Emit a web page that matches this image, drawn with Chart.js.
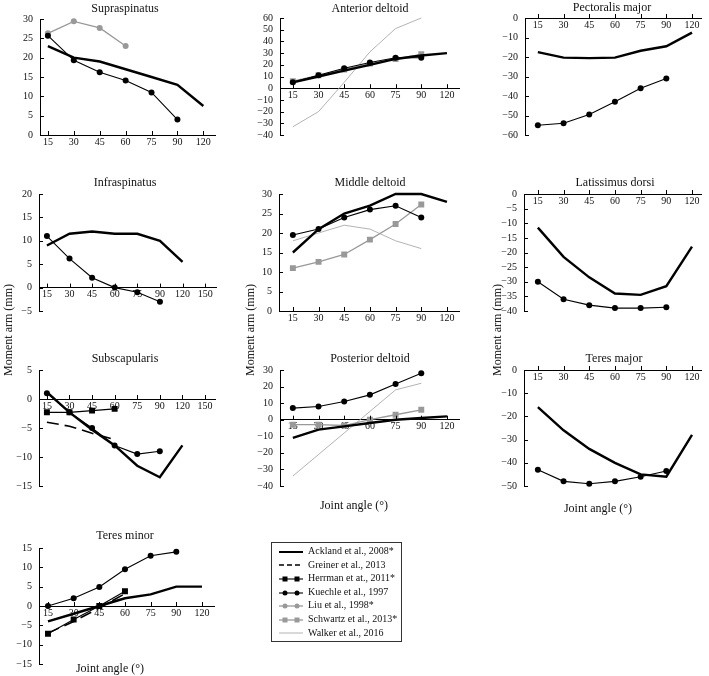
<!DOCTYPE html>
<html>
<head>
<meta charset="utf-8">
<script src="https://cdn.jsdelivr.net/npm/chart.js@4.4.1/dist/chart.umd.min.js"></script>
<style>
body { margin: 0; background: #fff; }
#wrap { position: relative; width: 709px; height: 676px; overflow: hidden; font-family: "Liberation Serif", serif; color: #111; }
#wrap canvas { position: absolute; }
.ttl { position: absolute; width: 200px; text-align: center; font-size: 12px; line-height: 16px; white-space: nowrap; }
.rot { position: absolute; width: 130px; height: 16px; line-height: 16px; text-align: center; font-size: 12px; transform: rotate(-90deg); white-space: nowrap; }
#legend { position: absolute; left: 271px; top: 542px; width: 129px; height: 98px; border: 1px solid #333; font-size: 10px; }
#legend .row { position: absolute; left: 6px; height: 12px; line-height: 12px; white-space: nowrap; }
#legend svg { vertical-align: middle; margin-right: 4px; }
</style>
</head>
<body>
<div id="wrap"></div>
<script>
// joint angle categories
const angles7 = ['15', '30', '45', '60', '75', '90', '120'];
const angles8 = ['15', '30', '45', '60', '75', '90', '120', '150'];

// y tick labels
const supraTicks = [0, 5, 10, 15, 20, 25, 30];
const antTicks = [-40, -30, -20, -10, 0, 10, 20, 30, 40, 50, 60];
const pecTicks = [-60, -50, -40, -30, -20, -10, 0];
const infraTicks = [-5, 0, 5, 10, 15, 20];
const midTicks = [0, 5, 10, 15, 20, 25, 30];
const latTicks = [-40, -35, -30, -25, -20, -15, -10, -5, 0];
const subTicks = [-15, -10, -5, 0, 5];
const postTicks = [-40, -30, -20, -10, 0, 10, 20, 30];
const tmajTicks = [-50, -40, -30, -20, -10, 0];
const tminTicks = [-15, -10, -5, 0, 5, 10, 15];

// Supraspinatus
const supraAckland = [23, 20, 19, 17, 15, 13, 7.5];
const supraKuechle = [25.7, 19.3, 16.2, 14.1, 11, 4];
const supraLiu = [26.3, 29.4, 27.7, 23];
// Anterior deltoid
const antAckland = [5, 10, 15, 20, 25, 28, 30];
const antKuechle = [5, 11, 17, 22, 26, 26];
const antSchwartz = [6, 11, 16, 21, 25, 29];
const antWalker = [-33, -20, 5, 31, 51, 60];
// Pectoralis major
const pecAckland = [-17.5, -20.3, -20.6, -20.3, -16.8, -14.5, -7.5];
const pecKuechle = [-55, -54, -49.5, -43, -36, -31];
// Infraspinatus
const infraAckland = [9, 11.5, 12, 11.5, 11.5, 10, 5.5];
const infraKuechle = [11, 6.2, 2.1, 0, -1, -3];
// Middle deltoid
const midAckland = [15, 21, 25, 27, 30, 30, 28];
const midKuechle = [19.5, 21, 24, 26, 27, 24];
const midSchwartz = [11, 12.6, 14.5, 18.3, 22.3, 27.3];
const midWalker = [18, 20, 22, 21, 18, 16];
// Latissimus dorsi
const latAckland = [-11.5, -21.5, -28.5, -34, -34.5, -31.5, -18];
const latKuechle = [-30, -36, -38, -39, -39, -38.7];
// Subscapularis
const subAckland = [1.2, -2.3, -5.3, -8, -11.5, -13.5, -8];
const subKuechle = [1, -2.3, -5, -8, -9.5, -9];
const subHerrman = [-2.3, -2.3, -2, -1.7];
const subGreiner = [-4, -4.7, -5.9, -7];
// Posterior deltoid
const postAckland = [-11, -6, -4, -2, 0, 1, 2];
const postKuechle = [7, 8, 11, 15, 21.5, 28];
const postSchwartz = [-3, -3, -3.5, 0, 3, 6];
const postWalker = [-34, -21, -8, 5, 18, 22];
// Teres major
const tmajAckland = [-16, -26, -34, -40, -45, -46, -28];
const tmajKuechle = [-43, -48, -49, -48, -46, -43.5];
// Teres minor
const tminAckland = [-4, -2, 0, 2, 3, 5, 5];
const tminKuechle = [0, 2, 4.9, 9.5, 13, 14];
const tminHerrman = [-7.2, -3.5, 0, 3.8];
const tminGreiner = [-7, -4, -0.5, 3.2];

const legendNames = ['Ackland et al., 2008*', 'Greiner et al., 2013', 'Herrman et at., 2011*',
  'Kuechle et al., 1997', 'Liu et al., 1998*', 'Schwartz et al., 2013*', 'Walker et al., 2016'];

const STYLE = {
  ackland: { borderColor: '#000', borderWidth: 2.4, pointRadius: 0 },
  greiner: { borderColor: '#000', borderWidth: 1.6, borderDash: [12, 6], pointRadius: 0 },
  herrman: { borderColor: '#000', borderWidth: 1.1, pointStyle: 'rect', pointRadius: 4.2, pointBorderWidth: 0, pointBackgroundColor: '#000' },
  kuechle: { borderColor: '#000', borderWidth: 1.1, pointStyle: 'circle', pointRadius: 3, pointBorderWidth: 0, pointBackgroundColor: '#000' },
  liu: { borderColor: '#999', borderWidth: 1.3, pointStyle: 'circle', pointRadius: 3, pointBorderWidth: 0, pointBackgroundColor: '#999' },
  schwartz: { borderColor: '#999', borderWidth: 1.3, pointStyle: 'rect', pointRadius: 4.2, pointBorderWidth: 0, pointBackgroundColor: '#999' },
  walker: { borderColor: '#aaa', borderWidth: 0.9, pointRadius: 0 }
};

function ds(kind, arr) {
  return Object.assign({
    data: arr.map((v, i) => ({ x: i, y: v })),
    tension: 0, fill: false, clip: 6
  }, STYLE[kind]);
}

const wrap = document.getElementById('wrap');
const tickFont = { family: 'Liberation Serif', size: 10 };
const minus = v => String(v).replace('-', '\u2212');

// short inward tick marks on both axes
const inTicks = {
  id: 'inTicks',
  afterDraw(chart) {
    const { ctx, scales: { x, y } } = chart;
    const y0 = y.getPixelForValue(0);
    const left = chart.chartArea.left;
    ctx.save();
    ctx.strokeStyle = '#000';
    ctx.lineWidth = 1;
    ctx.beginPath();
    y.ticks.forEach(t => {
      const py = Math.round(y.getPixelForValue(t.value)) + 0.5;
      ctx.moveTo(left, py); ctx.lineTo(left + 4, py);
    });
    x.ticks.forEach(t => {
      const px = Math.round(x.getPixelForValue(t.value)) + 0.5;
      ctx.moveTo(px, y0); ctx.lineTo(px, y0 - 4);
    });
    ctx.stroke();
    ctx.restore();
  }
};

function panel(p) {
  const padL = 36, padT = 8, padR = 2, padB = 20;
  const c = document.createElement('canvas');
  const w = p.r - p.l + padL + padR;
  const h = p.b - p.t + padT + padB;
  c.width = w; c.height = h;
  c.style.left = (p.l - padL) + 'px';
  c.style.top = (p.t - padT) + 'px';
  c.style.width = w + 'px'; c.style.height = h + 'px';
  wrap.appendChild(c);

  const labels = p.labels;
  new Chart(c.getContext('2d'), {
    type: 'line',
    data: { datasets: p.sets },
    options: {
      responsive: false,
      animation: false,
      layout: { padding: { left: 0, top: padT, right: padR, bottom: padB } },
      plugins: { legend: { display: false }, tooltip: { enabled: false } },
      scales: {
        x: {
          type: 'linear', min: p.xmin, max: p.xmax, position: { y: 0 },
          grid: { display: false, drawTicks: false },
          border: { color: '#000', width: 1 },
          ticks: {
            font: tickFont, color: '#111', padding: 1, autoSkip: false, maxRotation: 0,
            callback: v => labels[v]
          },
          afterBuildTicks: s => { s.ticks = labels.map((_, i) => ({ value: i })); },
          afterFit: s => { s.height = 0; }
        },
        y: {
          type: 'linear', min: p.ticks[0], max: p.ticks[p.ticks.length - 1], position: 'left',
          grid: { display: false, drawTicks: false },
          border: { color: '#000', width: 1 },
          ticks: { font: tickFont, color: '#111', padding: 7, autoSkip: false, callback: minus },
          afterBuildTicks: s => { s.ticks = p.ticks.map(v => ({ value: v })); },
          afterFit: s => { s.width = padL; }
        }
      }
    },
    plugins: [inTicks]
  });

  const t = document.createElement('div');
  t.className = 'ttl';
  t.textContent = p.title;
  t.style.left = (p.tx - 100) + 'px';
  t.style.top = (p.ty - 8) + 'px';
  wrap.appendChild(t);
}

panel({ title: 'Supraspinatus', tx: 125, ty: 8, l: 40, r: 217, t: 14, b: 135, xmin: -0.305, xmax: 6.45,
  labels: angles7, ticks: supraTicks,
  sets: [ds('ackland', supraAckland), ds('kuechle', supraKuechle), ds('liu', supraLiu)] });
panel({ title: 'Anterior deltoid', tx: 370, ty: 8, l: 280, r: 462, t: 13, b: 135, xmin: -0.5, xmax: 6.5,
  labels: angles7, ticks: antTicks,
  sets: [ds('ackland', antAckland), ds('kuechle', antKuechle), ds('schwartz', antSchwartz), ds('walker', antWalker)] });
panel({ title: 'Pectoralis major', tx: 612, ty: 7, l: 525, r: 703, t: 13, b: 135, xmin: -0.5, xmax: 6.35,
  labels: angles7, ticks: pecTicks,
  sets: [ds('ackland', pecAckland), ds('kuechle', pecKuechle)] });

panel({ title: 'Infraspinatus', tx: 125, ty: 182, l: 39, r: 218, t: 189, b: 311, xmin: -0.35, xmax: 7.48,
  labels: angles8, ticks: infraTicks,
  sets: [ds('ackland', infraAckland), ds('kuechle', infraKuechle)] });
panel({ title: 'Middle deltoid', tx: 370, ty: 182, l: 279, r: 462, t: 189, b: 311, xmin: -0.54, xmax: 6.5,
  labels: angles7, ticks: midTicks,
  sets: [ds('ackland', midAckland), ds('kuechle', midKuechle), ds('schwartz', midSchwartz), ds('walker', midWalker)] });
panel({ title: 'Latissimus dorsi', tx: 615, ty: 182, l: 524, r: 703, t: 189, b: 311, xmin: -0.54, xmax: 6.35,
  labels: angles7, ticks: latTicks,
  sets: [ds('ackland', latAckland), ds('kuechle', latKuechle)] });

panel({ title: 'Subscapularis', tx: 125, ty: 358, l: 39, r: 218, t: 365, b: 486, xmin: -0.35, xmax: 7.48,
  labels: angles8, ticks: subTicks,
  sets: [ds('ackland', subAckland), ds('greiner', subGreiner), ds('herrman', subHerrman), ds('kuechle', subKuechle)] });
panel({ title: 'Posterior deltoid', tx: 370, ty: 358, l: 280, r: 462, t: 365, b: 486, xmin: -0.5, xmax: 6.5,
  labels: angles7, ticks: postTicks,
  sets: [ds('ackland', postAckland), ds('kuechle', postKuechle), ds('schwartz', postSchwartz), ds('walker', postWalker)] });
panel({ title: 'Teres major', tx: 614, ty: 358, l: 524, r: 703, t: 365, b: 486, xmin: -0.54, xmax: 6.35,
  labels: angles7, ticks: tmajTicks,
  sets: [ds('ackland', tmajAckland), ds('kuechle', tmajKuechle)] });

panel({ title: 'Teres minor', tx: 125, ty: 535, l: 39, r: 217, t: 543, b: 664, xmin: -0.35, xmax: 6.5,
  labels: angles7, ticks: tminTicks,
  sets: [ds('ackland', tminAckland), ds('greiner', tminGreiner), ds('herrman', tminHerrman), ds('kuechle', tminKuechle)] });

// axis titles
[[8, 330], [250, 330], [497, 330]].forEach(([cx, cy]) => {
  const d = document.createElement('div');
  d.className = 'rot';
  d.textContent = 'Moment arm (mm)';
  d.style.left = (cx - 65) + 'px';
  d.style.top = (cy - 8) + 'px';
  wrap.appendChild(d);
});
[[110, 668], [354, 505], [598, 508]].forEach(([cx, cy]) => {
  const d = document.createElement('div');
  d.className = 'ttl';
  d.textContent = 'Joint angle (\u00b0)';
  d.style.left = (cx - 100) + 'px';
  d.style.top = (cy - 8) + 'px';
  wrap.appendChild(d);
});

// legend
const legendKinds = ['ackland', 'greiner', 'herrman', 'kuechle', 'liu', 'schwartz', 'walker'];
const lg = document.createElement('div');
lg.id = 'legend';
legendKinds.forEach((k, i) => {
  const s = STYLE[k];
  const dash = s.borderDash ? ' stroke-dasharray="5 3"' : '';
  let marks = '';
  if (s.pointRadius) {
    [7, 19].forEach(mx => {
      marks += s.pointStyle === 'rect'
        ? `<rect x="${mx - 2.5}" y="2.5" width="5" height="5" fill="${s.pointBackgroundColor}"/>`
        : `<circle cx="${mx}" cy="5" r="2.5" fill="${s.pointBackgroundColor}"/>`;
    });
  }
  const row = document.createElement('div');
  row.className = 'row';
  row.style.top = (2 + i * 13.6) + 'px';
  row.innerHTML = `<svg width="26" height="10"><line x1="1" y1="5" x2="25" y2="5" stroke="${s.borderColor}" stroke-width="${Math.min(s.borderWidth, 2)}"${dash}/>${marks}</svg>${legendNames[i]}`;
  lg.appendChild(row);
});
wrap.appendChild(lg);
</script>
</body>
</html>
